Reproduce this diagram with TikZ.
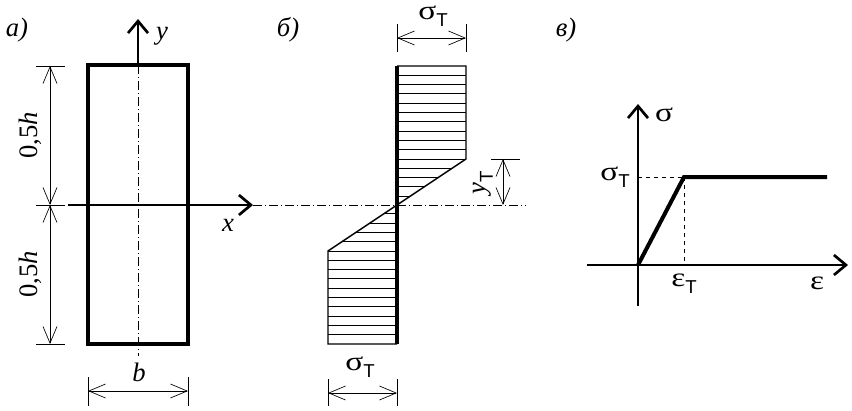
\documentclass[tikz,border=0pt]{standalone}
\usepackage{fontspec}
\setmainfont{Liberation Serif}
\newfontfamily\subfont{Liberation Sans}
\usetikzlibrary{arrows.meta}
\newcommand{\subT}{\raisebox{-.6ex}{\subfont\fontsize{14}{15}\selectfont Т}}
\newcommand{\wsig}{\scalebox{1.25}[1]{σ}}
\newcommand{\weps}{\scalebox{1.25}[1]{ε}}
\tikzset{
	dim/.style={line width=.65pt, {Straight Barb[length=12.5pt,width=10.5pt,line width=.5pt]}-{Straight Barb[length=12.5pt,width=10.5pt,line width=.5pt]}},
	thin line/.style={line width=.65pt},
	center line/.style={line width=.6pt, dash pattern=on 7pt off 2pt on 1pt off 2pt},
	axis/.style={line width=1.6pt, -{Straight Barb[length=9pt,width=15pt,line width=2pt]}},
	frame line/.style={line width=2.4pt},
	lab/.style={inner sep=0pt, font=\fontsize{20}{22}\selectfont},
	ital/.style={lab, font=\fontsize{20}{22}\selectfont\itshape}
}
\begin{document}
\begin{tikzpicture}[x=.75pt, y=-.75pt, line join=miter, >=stealth]
	\useasboundingbox (0,0) rectangle (852,410);
	
	% Сечение а)
	\coordinate (A1) at (88,65);
	\coordinate (A2) at (188,65);
	\coordinate (A3) at (188,344);
	\coordinate (A4) at (88,344);
	\coordinate (Amid) at (138,65);
	\coordinate (Atop) at (138,19);
	\coordinate (Acl) at (138,356);
	\coordinate (Xs) at (68,205);
	\coordinate (Xe) at (253,205);
	\coordinate (Xcl) at (526,205);
	\draw[center line] (Amid) -- (Acl);
	\draw[center line] (Xe) -- (Xcl);
	\draw[frame line] (A1) -- (A2) -- (A3) -- (A4) -- cycle;
	\draw[line width=3pt] (A1) -- (A4);
	\draw[axis] (Amid) -- (Atop);
	\draw[axis] (Xs) -- (Xe);
	
	% Размеры 0,5h
	\coordinate (T1) at (36,66);
	\coordinate (T2) at (65,66);
	\coordinate (T3) at (36,205);
	\coordinate (T4) at (65,205);
	\coordinate (T5) at (36,344);
	\coordinate (T6) at (65,344);
	\coordinate (H1) at (50,66);
	\coordinate (H2) at (50,205);
	\coordinate (H3) at (50,344);
	\draw[thin line] (T1) -- (T2);
	\draw[thin line] (T3) -- (T4);
	\draw[thin line] (T5) -- (T6);
	\draw[dim] (H1) -- (H2);
	\draw[dim] (H2) -- (H3);
	
	% Размер b
	\coordinate (B1) at (88,377);
	\coordinate (B2) at (88,406);
	\coordinate (B3) at (188,377);
	\coordinate (B4) at (188,406);
	\coordinate (B5) at (88,391);
	\coordinate (B6) at (188,391);
	\draw[thin line] (B1) -- (B2);
	\draw[thin line] (B3) -- (B4);
	\draw[dim] (B5) -- (B6);
	
	% Эпюра б)
	\coordinate (S1) at (397,66);
	\coordinate (S2) at (466,66);
	\coordinate (S3) at (466,159);
	\coordinate (S4) at (328,251);
	\coordinate (S5) at (328,344);
	\coordinate (S6) at (397,344);
	\foreach \k in {1,...,14} {
		\pgfmathsetmacro{\yy}{66+9.3*\k}
		\draw[thin line] (397,\yy) -- ({397+min(69,1.5*(205-\yy))},\yy);
		\pgfmathsetmacro{\yz}{344-9.3*\k}
		\draw[thin line] (397,\yz) -- ({397-min(69,1.5*(\yz-205))},\yz);
	}
	\draw[line width=1.1pt] (S1) -- (S2) -- (S3) -- (S4) -- (S5) -- (S6);
	\draw[line width=3pt] (S1) -- (S6);
	
	% Размеры эпюры
	\coordinate (D1) at (397,24);
	\coordinate (D2) at (397,52);
	\coordinate (D3) at (466,24);
	\coordinate (D4) at (466,52);
	\coordinate (D5) at (397,38);
	\coordinate (D6) at (466,38);
	\draw[thin line] (D1) -- (D2);
	\draw[thin line] (D3) -- (D4);
	\draw[dim] (D5) -- (D6);
	\coordinate (E1) at (328,379);
	\coordinate (E2) at (328,406);
	\coordinate (E3) at (397,379);
	\coordinate (E4) at (397,406);
	\coordinate (E5) at (328,393);
	\coordinate (E6) at (397,393);
	\draw[thin line] (E1) -- (E2);
	\draw[thin line] (E3) -- (E4);
	\draw[dim] (E5) -- (E6);
	\coordinate (F1) at (491,159);
	\coordinate (F2) at (520,159);
	\coordinate (F3) at (503,159);
	\coordinate (F4) at (503,205);
	\draw[thin line] (F1) -- (F2);
	\draw[dim] (F3) -- (F4);
	
	% График в)
	\coordinate (O) at (638,265);
	\coordinate (Ybot) at (638,306);
	\coordinate (Ytop) at (638,104);
	\coordinate (Eleft) at (587,265);
	\coordinate (Eright) at (848,265);
	\coordinate (P) at (684,177);
	\coordinate (Pend) at (827,177);
	\coordinate (Py) at (638,177);
	\coordinate (Px) at (684,265);
	\draw[axis] (Ybot) -- (Ytop);
	\draw[axis] (Eleft) -- (Eright);
	\draw[thin line, dashed] (Py) -- (P);
	\draw[thin line, dashed] (P) -- (Px);
	\draw[line width=3pt] (O) -- (P) -- (Pend);
	
	% Подписи
	\node[ital] (la) at (17,30) {а)};
	\node[ital] (lb) at (288,30) {б)};
	\node[ital] (lc) at (566,30) {в)};
	\node[ital] (ly) at (162,36) {y};
	\node[ital] (lx) at (228,225) {x};
	\node[ital] (lw) at (139,372) {b};
	\node[lab, rotate=90] (lh1) at (30,135) {0,5\textit{h}};
	\node[lab, rotate=90] (lh2) at (30,274) {0,5\textit{h}};
	\node[lab] (ls1) at (433,16) {\wsig\subT};
	\node[lab] (ls2) at (360,367) {\wsig\subT};
	\node[lab, rotate=90] (lyt) at (483,183) {\textit{y}\subT};
	\node[lab] (lsig) at (664,115) {\wsig};
	\node[lab] (lst) at (615,177) {\wsig\subT};
	\node[lab] (let) at (684,284) {\weps\subT};
	\node[lab] (leps) at (817,283) {\weps};
\end{tikzpicture}
\end{document}
